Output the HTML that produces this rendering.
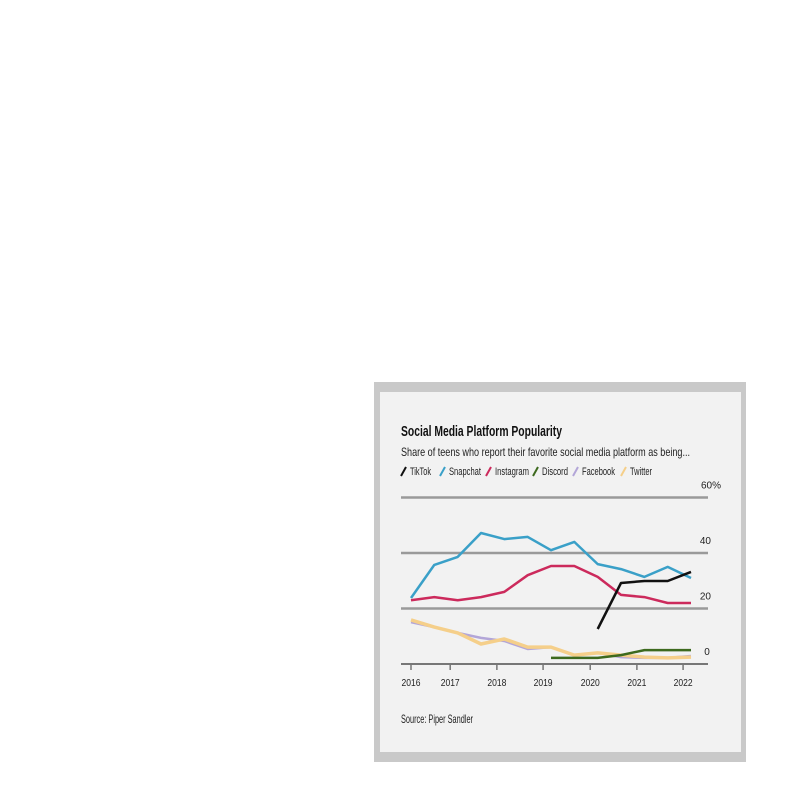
<!DOCTYPE html>
<html><head><meta charset="utf-8"><style>
html,body{margin:0;padding:0;background:#fff;width:800px;height:800px;overflow:hidden}
svg{display:block;font-family:"Liberation Sans",sans-serif}
</style></head><body>
<svg id="chart" width="800" height="800" viewBox="0 0 800 800">
<rect x="374" y="382" width="372" height="380" fill="#c9c9c9"/>
<rect x="380" y="392" width="361" height="360" fill="#f2f2f2"/>
<text x="401" y="436" font-size="15" font-weight="bold" fill="#111" textLength="161" lengthAdjust="spacingAndGlyphs">Social Media Platform Popularity</text>
<text x="401" y="456" font-size="12" fill="#222" textLength="289" lengthAdjust="spacingAndGlyphs">Share of teens who report their favorite social media platform as being...</text>
<g id="legend"></g>
<g id="grid"></g>
<g id="series"></g>
<g id="xaxis"></g>
<text x="401" y="723" font-size="12" fill="#222" textLength="72" lengthAdjust="spacingAndGlyphs">Source: Piper Sandler</text>
</svg>
<script>
const pointYears=[2016,2016.5,2017,2017.5,2018,2018.5,2019,2019.5,2020,2020.5,2021,2021.5,2022];
const tiktok=[null,null,null,null,null,null,null,null,12.6,29.2,29.9,29.9,33.2];
const snapchat=[23.8,35.7,38.6,47.2,45,45.8,41,44,36,34.2,31.4,35,31];
const instagram=[23,24.1,23,24.1,26,32,35.3,35.3,31.4,24.9,24.1,22,22];
const discord=[null,null,null,null,null,null,2.2,2.2,2.2,3.2,5,5,5];
const facebook=[15.1,13.3,11.2,9.4,8.3,5.4,6.1,3.2,4,2.5,2.2,2.2,2.9];
const twitter=[15.9,13.3,11.2,7.2,9,6.1,6.1,3.2,4,3.2,2.5,2.2,2.5];
const tickYears=[2016,2016.84,2017.84,2018.83,2019.84,2020.84,2021.83];
const tickLabels=["2016","2017","2018","2019","2020","2021","2022"];
const gridValues=[20,40,60];
const gridLabels=["20","40","60%"];
const seriesNames=["TikTok","Snapchat","Instagram","Discord","Facebook","Twitter"];
const seriesColors=["#111111","#3aa0c8","#cc2a5c","#3d6a1e","#b3a6d8","#f5cf8a"];
const ns="http://www.w3.org/2000/svg";
const X=yr=>411+(yr-2016)*46.67;
const Y=v=>664-v*2.775;
function mk(tag,attrs,parent){const e=document.createElementNS(ns,tag);for(const k in attrs)e.setAttribute(k,attrs[k]);parent.appendChild(e);return e;}
const grid=document.getElementById('grid');
gridValues.forEach((v,i)=>{
  const l=mk('line',{x1:401,x2:708,y1:Y(v),y2:Y(v),stroke:'#9a9a9a','stroke-width':2.5},grid);
  
  
  const t=mk('text',{x:i==2?701:711,y:Y(v)-9,'font-size':10,fill:'#222','text-anchor':i==2?'start':'end'},grid);
  t.textContent=gridLabels[i];
  
  
});
const z=mk('text',{x:707,y:Y(0)-9,'font-size':10,fill:'#222','text-anchor':'middle'},grid);
z.textContent="0";


const xa=document.getElementById('xaxis');
const al=mk('line',{x1:401,x2:708,y1:Y(0),y2:Y(0),stroke:'#777','stroke-width':2},xa);


tickYears.forEach((yr,i)=>{
  const tk=mk('line',{x1:X(yr),x2:X(yr),y1:Y(0),y2:Y(0)+6,stroke:'#777','stroke-width':1.5},xa);
  
  
  const t=mk('text',{x:X(yr),y:Y(0)+22,'font-size':10,fill:'#222','text-anchor':'middle',textLength:19,lengthAdjust:'spacingAndGlyphs'},xa);
  t.textContent=tickLabels[i];
  
  
});
const sg=document.getElementById('series');
const data=[facebook,twitter,discord,instagram,snapchat,tiktok];
const order=[4,5,3,2,1,0];
order.forEach((si,k)=>{
  const vals=data[k];let d="";let pen=false;
  vals.forEach((v,i)=>{if(v==null){pen=false;return;}d+=(pen?"L":"M")+X(pointYears[i]).toFixed(1)+","+Y(v).toFixed(1);pen=true;});
  const p=mk('path',{d:d,fill:'none',stroke:seriesColors[si],'stroke-width':si==5?3.5:2.5,'stroke-linejoin':'round'},sg);
  
  
});
const lg=document.getElementById('legend');
const lx=[401,440,486,533,573,621];
const lw=[21,32,34,26,33,22];
seriesNames.forEach((n,i)=>{
  const s=mk('line',{x1:lx[i],y1:476,x2:lx[i]+5,y2:467,stroke:seriesColors[i],'stroke-width':2},lg);
  
  
  const t=mk('text',{x:lx[i]+9,y:475,'font-size':11,fill:'#222',textLength:lw[i],lengthAdjust:'spacingAndGlyphs'},lg);
  t.textContent=n;
  
  
});
</script>
</body></html>
